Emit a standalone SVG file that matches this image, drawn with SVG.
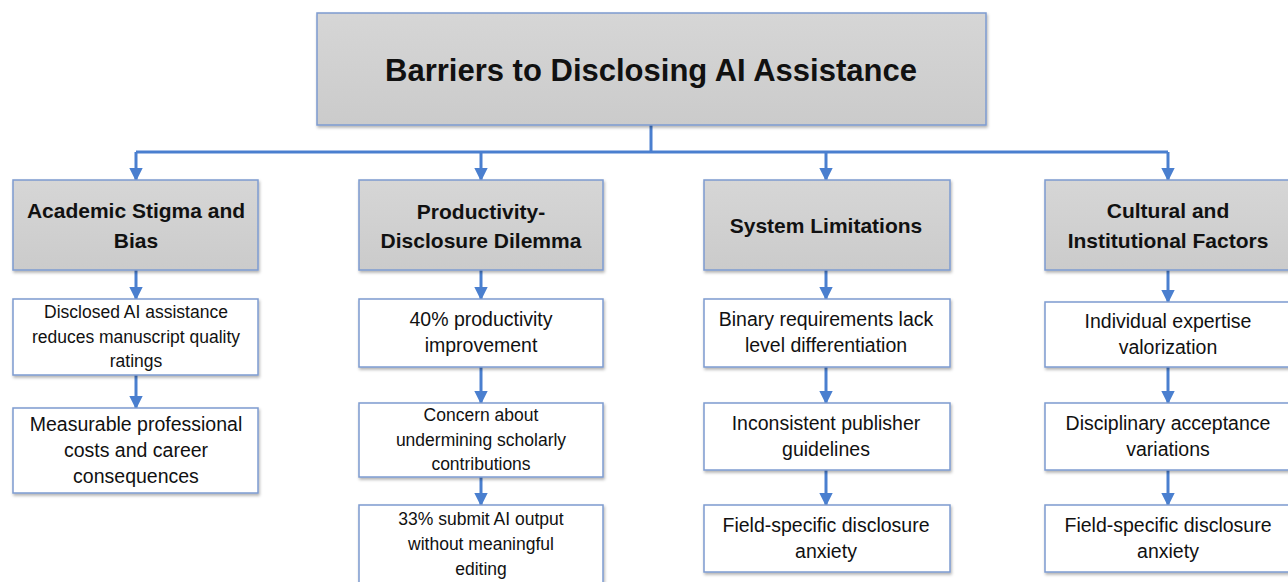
<svg xmlns="http://www.w3.org/2000/svg" width="1288" height="582" viewBox="0 0 1288 582">
<defs>
<linearGradient id="g" x1="0" y1="0" x2="0" y2="1"><stop offset="0" stop-color="#d6d6d6"/><stop offset="1" stop-color="#cbcbcb"/></linearGradient>
<filter id="sh" x="-5%" y="-5%" width="110%" height="120%"><feDropShadow dx="1" dy="2" stdDeviation="1.5" flood-color="#000" flood-opacity="0.3"/></filter>
<marker id="ah" viewBox="0 0 10 10" refX="9" refY="5" markerWidth="4.5" markerHeight="4.5" orient="auto"><path d="M0,0 L10,5 L0,10 z" fill="#4a7fcf"/></marker>
<style>
.hd{fill:url(#g);stroke:#7d9bd0;stroke-width:1.5;filter:url(#sh)}
.bx{fill:#fff;stroke:#7d9bd0;stroke-width:1.5;filter:url(#sh)}
.ln{stroke:#4a7fcf;stroke-width:3;fill:none}
.ar{stroke:#4a7fcf;stroke-width:3;fill:none;marker-end:url(#ah)}
text{font-family:"Liberation Sans",Arial,sans-serif;fill:#111;text-anchor:middle}
.t{font-size:31px;font-weight:bold}
.h{font-size:21px;font-weight:bold}
.b{font-size:19.5px}
.s{font-size:17.5px}
</style>
</defs>
<rect width="1288" height="582" fill="#fff"/>
<g id="connectors">
<path class="ln" d="M651,125 V152 M136,152 H1168"/>
<path class="ar" d="M136,152 V180"/>
<path class="ar" d="M481,152 V180"/>
<path class="ar" d="M826,152 V180"/>
<path class="ar" d="M1168,152 V180"/>
<path class="ar" d="M136,270 V299"/>
<path class="ar" d="M136,375 V408"/>
<path class="ar" d="M481,270 V299"/>
<path class="ar" d="M481,367 V403"/>
<path class="ar" d="M481,477 V505"/>
<path class="ar" d="M826,270 V299"/>
<path class="ar" d="M826,367 V403"/>
<path class="ar" d="M826,470 V505"/>
<path class="ar" d="M1168,270 V302"/>
<path class="ar" d="M1168,367 V403"/>
<path class="ar" d="M1168,470 V505"/>
</g>
<g id="title"><rect class="hd" x="317" y="13" width="669" height="112"/><text class="t" x="651" y="81">Barriers to Disclosing AI Assistance</text></g>
<g id="c1h"><rect class="hd" x="13" y="180" width="245" height="90"/><text class="h" x="136" y="218">Academic Stigma and</text><text class="h" x="136" y="248">Bias</text></g>
<g id="c1b1"><rect class="bx" x="13" y="299" width="245" height="76"/><text class="s" x="136" y="318">Disclosed AI assistance</text><text class="s" x="136" y="343">reduces manuscript quality</text><text class="s" x="136" y="367">ratings</text></g>
<g id="c1b2"><rect class="bx" x="13" y="408" width="245" height="85"/><text class="b" x="136" y="431">Measurable professional</text><text class="b" x="136" y="457">costs and career</text><text class="b" x="136" y="483">consequences</text></g>
<g id="c2h"><rect class="hd" x="359" y="180" width="244" height="90"/><text class="h" x="481" y="219">Productivity-</text><text class="h" x="481" y="248">Disclosure Dilemma</text></g>
<g id="c2b1"><rect class="bx" x="359" y="299" width="244" height="68"/><text class="b" x="481" y="326">40% productivity</text><text class="b" x="481" y="352">improvement</text></g>
<g id="c2b2"><rect class="bx" x="359" y="403" width="244" height="74"/><text class="s" x="481" y="421">Concern about</text><text class="s" x="481" y="446">undermining scholarly</text><text class="s" x="481" y="470">contributions</text></g>
<g id="c2b3"><rect class="bx" x="359" y="505" width="244" height="82"/><text class="s" x="481" y="525">33% submit AI output</text><text class="s" x="481" y="550">without meaningful</text><text class="s" x="481" y="575">editing</text></g>
<g id="c3h"><rect class="hd" x="704" y="180" width="246" height="90"/><text class="h" x="826" y="233">System Limitations</text></g>
<g id="c3b1"><rect class="bx" x="704" y="299" width="246" height="68"/><text class="b" x="826" y="326">Binary requirements lack</text><text class="b" x="826" y="352">level differentiation</text></g>
<g id="c3b2"><rect class="bx" x="704" y="403" width="246" height="67"/><text class="b" x="826" y="430">Inconsistent publisher</text><text class="b" x="826" y="456">guidelines</text></g>
<g id="c3b3"><rect class="bx" x="704" y="505" width="246" height="67"/><text class="b" x="826" y="532">Field-specific disclosure</text><text class="b" x="826" y="558">anxiety</text></g>
<g id="c4h"><rect class="hd" x="1045" y="180" width="246" height="90"/><text class="h" x="1168" y="218">Cultural and</text><text class="h" x="1168" y="248">Institutional Factors</text></g>
<g id="c4b1"><rect class="bx" x="1045" y="302" width="246" height="65"/><text class="b" x="1168" y="328">Individual expertise</text><text class="b" x="1168" y="354">valorization</text></g>
<g id="c4b2"><rect class="bx" x="1045" y="403" width="246" height="67"/><text class="b" x="1168" y="430">Disciplinary acceptance</text><text class="b" x="1168" y="456">variations</text></g>
<g id="c4b3"><rect class="bx" x="1045" y="505" width="246" height="67"/><text class="b" x="1168" y="532">Field-specific disclosure</text><text class="b" x="1168" y="558">anxiety</text></g>
</svg>
